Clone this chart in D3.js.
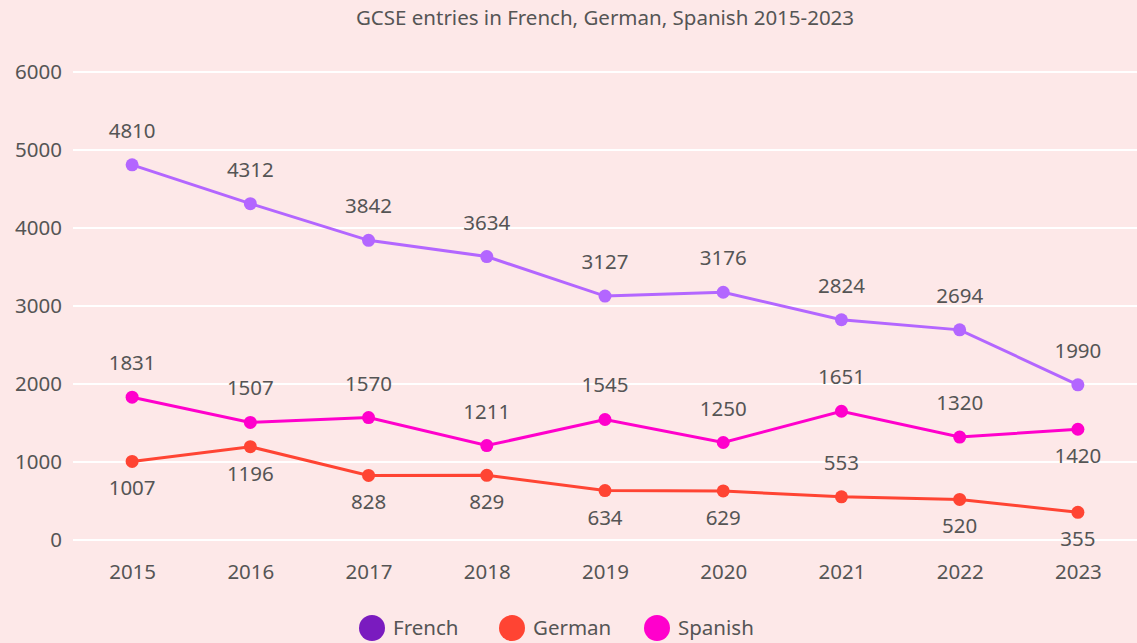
<!DOCTYPE html>
<html>
<head>
<meta charset="utf-8">
<script src="https://cdn.jsdelivr.net/npm/d3@7"></script>
<style>
  body { margin: 0; background: #fde8e8; }
  svg { display: block; font-family: "Noto Sans", "Open Sans", sans-serif; }
</style>
</head>
<body>
<script>
// data
var years = ["2015", "2016", "2017", "2018", "2019", "2020", "2021", "2022", "2023"];
var french = [4810, 4312, 3842, 3634, 3127, 3176, 2824, 2694, 1990];
var german = [1007, 1196, 828, 829, 634, 629, 553, 520, 355];
var spanish = [1831, 1507, 1570, 1211, 1545, 1250, 1651, 1320, 1420];
var yTicks = [0, 1000, 2000, 3000, 4000, 5000, 6000];

// label side: -1 above, 1 below
var germanSide = [1, 1, 1, 1, 1, 1, -1, 1, 1];
var spanishSide = [-1, -1, -1, -1, -1, -1, -1, -1, 1];

var series = [
    {name: "French", values: french, line: "#b366ff", legend: "#7a1bbf", side: years.map(function() { return -1; })},
    {name: "German", values: german, line: "#ff4433", legend: "#ff4433", side: germanSide},
    {name: "Spanish", values: spanish, line: "#ff00cc", legend: "#ff00cc", side: spanishSide}
];

var W = 1137, H = 643;
var margin = {top: 72, right: 0, bottom: 103, left: 73},
    width = W - margin.left - margin.right,
    height = H - margin.top - margin.bottom;

var fs = "20.5px";

var svg = d3.select("body").append("svg")
    .attr("width", W)
    .attr("height", H);

svg.append("rect").attr("width", W).attr("height", H).attr("fill", "#fde8e8");

// title
svg.append("text")
    .attr("x", margin.left + width / 2)
    .attr("y", 25)
    .attr("text-anchor", "middle")
    .style("font-size", "20.5px")
    .style("fill", "#555")
    .text("GCSE entries in French, German, Spanish 2015-2023");

var g = svg.append("g")
    .attr("transform", "translate(" + margin.left + "," + margin.top + ")");

var x = d3.scalePoint().domain(years).range([0, width]).padding(0.5);
var y = d3.scaleLinear().domain([0, 6000]).range([height, 0]);

// gridlines
g.selectAll(".grid")
    .data(yTicks)
    .enter().append("line")
        .attr("x1", 0)
        .attr("x2", width)
        .attr("y1", function(d) { return y(d); })
        .attr("y2", function(d) { return y(d); })
        .attr("stroke", "#fff")
        .attr("stroke-width", 2);

// y axis labels
var yAxis = g.append("g")
    .call(d3.axisLeft(y).tickValues(yTicks).tickFormat(d3.format("d")).tickSize(0).tickPadding(11));
yAxis.select(".domain").remove();
yAxis.selectAll("text")
    .style("font-size", fs)
    .style("font-family", "Noto Sans, sans-serif")
    .style("fill", "#555");

// x axis labels
var xAxis = g.append("g")
    .attr("transform", "translate(0," + height + ")")
    .call(d3.axisBottom(x).tickSize(0).tickPadding(24));
xAxis.select(".domain").remove();
xAxis.selectAll("text")
    .style("font-size", fs)
    .style("font-family", "Noto Sans, sans-serif")
    .style("fill", "#555");

var line = d3.line()
    .x(function(d, i) { return x(years[i]); })
    .y(function(d) { return y(d); });

series.forEach(function(s) {
    g.append("path")
        .datum(s.values)
        .attr("fill", "none")
        .attr("stroke", s.line)
        .attr("stroke-width", 3)
        .attr("d", line);

    g.selectAll(null)
        .data(s.values)
        .enter().append("circle")
            .attr("cx", function(d, i) { return x(years[i]); })
            .attr("cy", function(d) { return y(d); })
            .attr("r", 6.5)
            .attr("fill", s.line);

    g.selectAll(null)
        .data(s.values)
        .enter().append("text")
            .attr("x", function(d, i) { return x(years[i]); })
            .attr("y", function(d, i) { return y(d) + (s.side[i] < 0 ? -27 : 34); })
            .attr("text-anchor", "middle")
            .style("font-size", fs)
            .style("fill", "#555")
            .text(function(d) { return d; });
});

// legend
var legendX = [372, 512, 657];
var legend = svg.selectAll(".legend")
    .data(series)
    .enter().append("g")
        .attr("transform", function(d, i) { return "translate(" + legendX[i] + ",628)"; });
legend.append("circle")
    .attr("r", 13)
    .attr("fill", function(d) { return d.legend; });
legend.append("text")
    .attr("x", 21)
    .attr("y", 7)
    .style("font-size", fs)
    .style("fill", "#555")
    .text(function(d) { return d.name; });
</script>
</body>
</html>
